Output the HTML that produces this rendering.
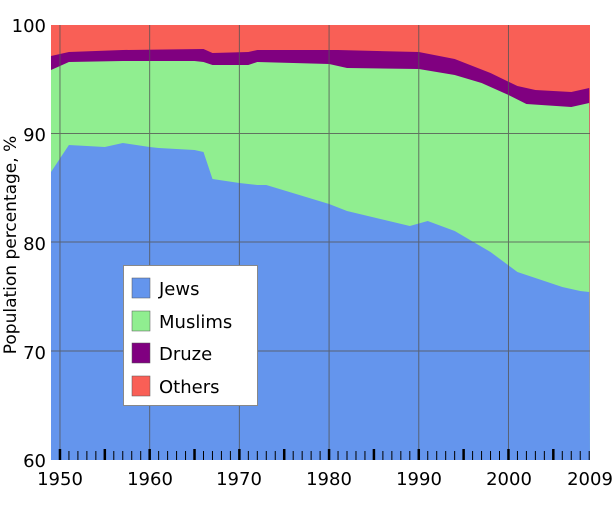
<!DOCTYPE html>
<html><head><meta charset="utf-8"><style>
html,body{margin:0;padding:0;background:#fff;}
svg text{font-family:"DejaVu Sans","Liberation Sans",sans-serif;fill:#000;}
</style></head><body>
<svg id="s" width="615" height="512" xmlns="http://www.w3.org/2000/svg">
<rect x="51" y="25" width="539" height="435" fill="#f95f56"/>
<polygon id="druze" fill="#800080"/>
<polygon id="musl" fill="#90ee90"/>
<polygon id="jews" fill="#6495ed"/>
<g id="grid" stroke="#555" stroke-width="1" opacity="0.8"></g>
<g id="ticks" stroke="#000"></g>
<g font-size="18" text-anchor="end">
<text x="46" y="32">100</text><text x="46" y="141">90</text><text x="46" y="250">80</text><text x="46" y="359">70</text><text x="46" y="467">60</text>
</g>
<g font-size="18" text-anchor="middle">
<text x="60" y="485">1950</text><text x="150" y="485">1960</text><text x="239" y="485">1970</text><text x="329" y="485">1980</text><text x="419" y="485">1990</text><text x="509" y="485">2000</text><text x="590" y="485">2009</text>
</g>
<text font-size="17" text-anchor="middle" transform="translate(16,245) rotate(-90)">Population percentage, %</text>
<rect x="123.5" y="265.5" width="134" height="140" fill="#fff" stroke="#888"/>
<rect x="132" y="278" width="18" height="20" fill="#6495ed" stroke="#555" stroke-width="0.5"/>
<rect x="132" y="311" width="18" height="20" fill="#90ee90" stroke="#555" stroke-width="0.5"/>
<rect x="132" y="343" width="18" height="20" fill="#800080" stroke="#555" stroke-width="0.5"/>
<rect x="132" y="376" width="18" height="20" fill="#f95f56" stroke="#555" stroke-width="0.5"/>
<g font-size="18"><text x="159" y="295">Jews</text><text x="159" y="328">Muslims</text><text x="159" y="360">Druze</text><text x="159" y="393">Others</text></g>
</svg>
<script>
function X(y){return 51+(y-1949)*8.97;}
const jews=[[1949,172],[1951,145],[1953,146],[1955,147],[1957,143],[1960,147],[1961,148],[1965,150],[1966,152],[1967,179],[1970,183],[1972,185],[1973,185],[1980,204],[1982,211],[1989,226],[1991,221],[1994,231],[1998,252],[2001,272],[2003,278],[2006,287],[2008,291],[2009,292]];
const mus=[[1949,70],[1951,62],[1957,61],[1965,61],[1966,62],[1967,65],[1971,65],[1972,62],[1980,64],[1982,68],[1990,69],[1994,75],[1997,83],[2000,95],[2002,104],[2007,107],[2009,103]];
const dr=[[1949,56],[1951,52],[1957,50],[1966,49],[1967,53],[1971,52],[1972,50],[1981,50],[1990,52],[1994,59],[1998,73],[2001,86],[2003,90],[2007,92],[2009,88]];
function poly(id,d){let p=d.map(a=>X(a[0]).toFixed(1)+","+a[1]).join(" ");p+=" 590,460 51,460";document.getElementById(id).setAttribute("points",p);}
poly("jews",jews);poly("musl",mus);poly("druze",dr);
const ns="http://www.w3.org/2000/svg";let g=document.getElementById("grid"),t=document.getElementById("ticks");
function ln(par,x1,y1,x2,y2,w){let l=document.createElementNS(ns,"line");l.setAttribute("x1",x1);l.setAttribute("y1",y1);l.setAttribute("x2",x2);l.setAttribute("y2",y2);if(w)l.setAttribute("stroke-width",w);par.appendChild(l);}
[1950,1960,1970,1980,1990,2000].forEach(y=>ln(g,X(y),25,X(y),460));
[133.5,242,351].forEach(y=>ln(g,51,y,590,y));
for(let y=1950;y<=2009;y++){let m=y%5==0;ln(t,X(y),m?449:451,X(y),460,m?2.5:1);}
</script>
</body></html>
